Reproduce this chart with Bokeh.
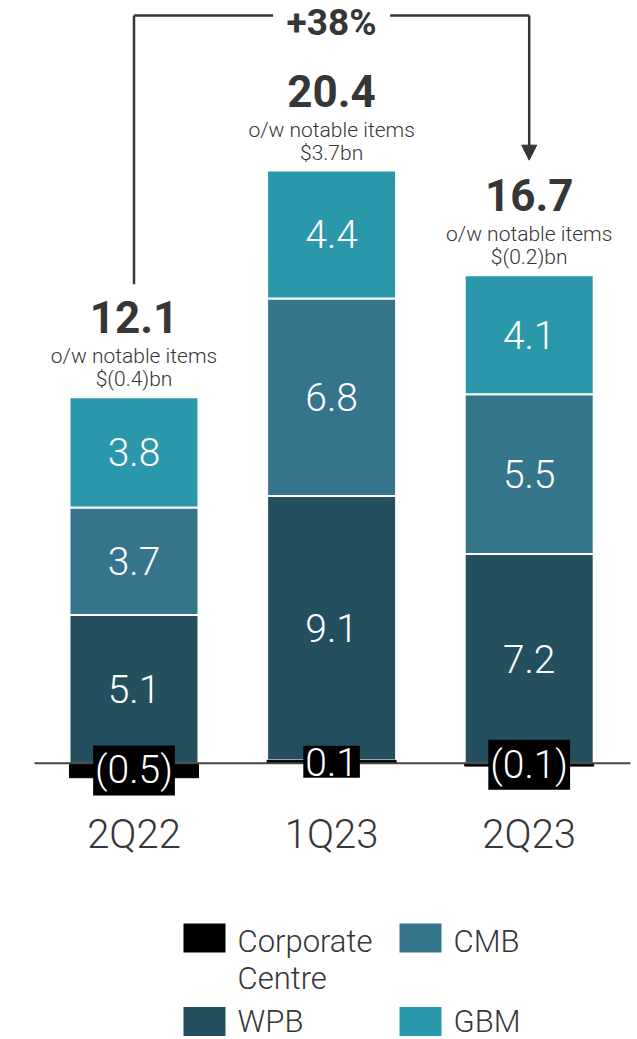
from bokeh.plotting import figure
from bokeh.models import Range1d, ColumnDataSource, Arrow, NormalHead
from bokeh.core.properties import value
from bokeh.embed import file_html
from bokeh.resources import INLINE

# ---------------- data ----------------
periods = ["2Q22", "1Q23", "2Q23"]
corporate_centre = [-0.5, 0.1, -0.1]
wpb = [5.1, 9.1, 7.2]
cmb = [3.7, 6.8, 5.5]
gbm = [3.8, 4.4, 4.1]
totals = ["12.1", "20.4", "16.7"]
notable_items = ["$(0.4)bn", "$3.7bn", "$(0.2)bn"]
cc_labels = ["(0.5)", "0.1", "(0.1)"]
growth_label = "+38%"
series_names = ["Corporate\nCentre", "CMB", "WPB", "GBM"]

# ---------------- style ----------------
C_CC = "#000000"
C_WPB = "#234f5f"
C_CMB = "#35758c"
C_GBM = "#2b97aa"
C_TXT = "#363636"
LIGHT = value("Roboto Light")
BOLD = value("Roboto")

W, H = 637, 1039
PX = 29.05          # pixels per unit of value
XS = 197.6          # pixels per category step
BASE_Y = 762.7      # page y of the zero line
X0 = 133.5          # page x of the first category


def yv(page_y):
    return (BASE_Y - page_y) / PX


def xv(page_x):
    return (page_x - X0) / XS


p = figure(width=W, height=H, output_backend="svg", toolbar_location=None,
           x_range=Range1d(xv(0), xv(W)),
           y_range=Range1d(yv(H), yv(0)),
           min_border=0, outline_line_color=None)
p.axis.visible = False
p.grid.visible = False
p.background_fill_color = "white"
p.border_fill_color = "white"

xs = list(range(len(periods)))

# stacked segments
seg = dict(x=[], bottom=[], top=[], color=[], mid=[], label=[])
cc = dict(x=[], bottom=[], top=[], mid=[], label=[])
tops = []
for i in xs:
    c = corporate_centre[i]
    cc["x"].append(i)
    cc["bottom"].append(min(0, c))
    cc["top"].append(max(0, c))
    cc["mid"].append(c / 2)
    cc["label"].append(cc_labels[i])
    base = max(0, c)
    for vals, col in ((wpb, C_WPB), (cmb, C_CMB), (gbm, C_GBM)):
        v = vals[i]
        seg["x"].append(i)
        seg["bottom"].append(base)
        seg["top"].append(base + v)
        seg["color"].append(col)
        seg["mid"].append(base + v / 2)
        seg["label"].append(f"{v:.1f}")
        base += v
    tops.append(base)

seg_src = ColumnDataSource(seg)
cc_src = ColumnDataSource(cc)

BW = 129 / XS
p.vbar(x="x", bottom="bottom", top="top", width=BW, color="color",
       line_color="white", line_width=2, source=seg_src)
p.vbar(x="x", bottom="bottom", top="top", width=BW, fill_color=C_CC,
       line_color=C_CC, line_width=1, source=cc_src)

# baseline
p.segment(x0=[xv(34)], y0=[0], x1=[xv(630)], y1=[0], line_color="#444444", line_width=2)

# segment labels
p.text(x="x", y="mid", text="label", source=seg_src, text_color="white",
       text_font=LIGHT, text_font_size="39px", text_align="center",
       text_baseline="middle")

# corporate centre labels in black boxes
p.text(x="x", y="mid", text="label", source=cc_src, text_color="white",
       text_font=LIGHT, text_font_size="39px", text_align="center",
       text_baseline="middle", background_fill_color="black", padding=2)

# totals
tot_src = ColumnDataSource(dict(
    x=xs,
    y_tot=[t + 80 / PX for t in tops],
    y_ow=[t + 41 / PX for t in tops],
    y_ni=[t + 18 / PX for t in tops],
    tot=totals,
    ow=["o/w notable items"] * len(xs),
    ni=notable_items,
))
p.text(x="x", y="y_tot", text="tot", source=tot_src, text_color=C_TXT,
       text_font=BOLD, text_font_style="bold", text_font_size="44px",
       text_align="center", text_baseline="middle")
p.text(x="x", y="y_ow", text="ow", source=tot_src, text_color=C_TXT,
       text_font=LIGHT, text_font_size="21px", text_align="center",
       text_baseline="middle")
p.text(x="x", y="y_ni", text="ni", source=tot_src, text_color=C_TXT,
       text_font=LIGHT, text_font_size="21px", text_align="center",
       text_baseline="middle")

# category labels
p.text(x=xs, y=[yv(834)] * len(xs), text=periods, text_color=C_TXT,
       text_font=LIGHT, text_font_size="40px", text_align="center",
       text_baseline="middle")

# growth bracket
y_br = yv(15)
gap = 58.5 / XS
x_mid = (xs[0] + xs[-1]) / 2
p.segment(x0=[xs[0], xs[0], x_mid + gap], y0=[tops[0] + 113 / PX, y_br, y_br],
          x1=[xs[0], x_mid - gap, xs[-1]], y1=[y_br, y_br, y_br],
          line_color=C_TXT, line_width=2.5)
p.add_layout(Arrow(end=NormalHead(size=15, fill_color=C_TXT, line_color=C_TXT, line_width=1),
                   x_start=xs[-1], y_start=y_br, x_end=xs[-1], y_end=tops[-1] + 115 / PX,
                   line_color=C_TXT, line_width=2.5))
p.text(x=[x_mid], y=[yv(21.5)], text=[growth_label], text_color=C_TXT,
       text_font=BOLD, text_font_style="bold", text_font_size="37px",
       text_align="center", text_baseline="middle")

# legend
leg_colors = [C_CC, C_CMB, C_WPB, C_GBM]
leg_sq_x = [xv(204), xv(420), xv(204), xv(420)]
leg_sq_y = [yv(937.5), yv(937.5), yv(1021), yv(1021)]
leg_tx_x = [xv(237), xv(453), xv(237), xv(453)]
leg_tx_y = [yv(922), yv(922), yv(1002), yv(1002)]
p.rect(x=leg_sq_x, y=leg_sq_y, width=42, height=29, width_units="screen",
       height_units="screen", fill_color=leg_colors, line_color=None)
p.text(x=leg_tx_x, y=leg_tx_y, text=series_names, text_color=C_TXT,
       text_font=LIGHT, text_font_size="31px", text_align="left",
       text_baseline="top", text_line_height=1.0)

open("out.html", "w").write(file_html(p, INLINE))
